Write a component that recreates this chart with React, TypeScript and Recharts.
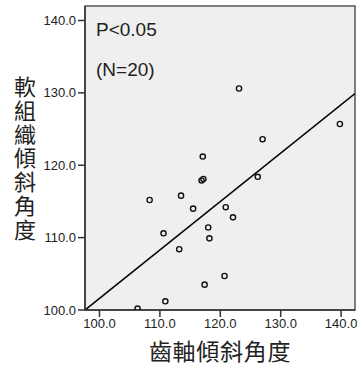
import React from 'react';
import {
  ScatterChart,
  Scatter,
  XAxis,
  YAxis,
  ReferenceArea,
  ReferenceLine,
} from 'recharts';

// 齒軸傾斜角度 (x) vs 軟組織傾斜角度 (y)
const xValues = [108.3, 110.6, 110.9, 106.3, 117.1, 116.9, 117.2, 113.5, 115.5, 120.9, 122.1, 118.0, 118.2, 113.2, 120.7, 117.4, 126.2, 123.1, 127.0, 139.8];
const yValues = [115.2, 110.6, 101.2, 100.2, 121.2, 117.9, 118.1, 115.8, 114.0, 114.2, 112.8, 111.4, 109.9, 108.4, 104.7, 103.5, 118.4, 130.6, 123.6, 125.7];

// fitted regression line endpoints
const fitX = [97.6, 142.3];
const fitY = [100.0, 129.9];

const xTicks = [100, 110, 120, 130, 140];
const yTicks = [100, 110, 120, 130, 140];
const xDomain = [97.6, 142.3];
const yDomain = [100, 142];

const xTitle = '齒軸傾斜角度';
const yTitle = '軟組織傾斜角度';
const annotations = ['P<0.05', '(N=20)'];

const points = xValues.map((x, i) => ({ x, y: yValues[i] }));
const fitSegment = fitX.map((x, i) => ({ x, y: fitY[i] }));

const Ring = (props: any) => {
  const { cx, cy } = props;
  if (cx == null || cy == null) return null;
  return <circle cx={cx} cy={cy} r={2.6} fill="none" stroke="#111" strokeWidth={1.4} />;
};

const tickStyle = { fill: '#222', fontSize: 13, fontFamily: 'Liberation Sans, Arial, sans-serif' };

export default function App() {
  return (
    <div style={{ position: 'absolute', left: 0, top: 0, width: 357, height: 370, background: '#fff' }}>
      <ScatterChart width={357} height={370} margin={{ top: 6, right: 2, left: 0, bottom: 0 }}>
        <XAxis
          type="number"
          dataKey="x"
          domain={xDomain}
          ticks={xTicks}
          allowDataOverflow
          tickFormatter={(v: number) => v.toFixed(1)}
          tick={tickStyle}
          tickSize={7}
          tickMargin={2}
          height={60}
          axisLine={{ stroke: '#333', strokeWidth: 1.5 }}
          tickLine={{ stroke: '#333', strokeWidth: 1.5 }}
        />
        <YAxis
          type="number"
          dataKey="y"
          domain={yDomain}
          ticks={yTicks}
          allowDataOverflow
          tickFormatter={(v: number) => v.toFixed(1)}
          tick={tickStyle}
          tickSize={7}
          tickMargin={2}
          width={85}
          axisLine={{ stroke: '#333', strokeWidth: 1.5 }}
          tickLine={{ stroke: '#333', strokeWidth: 1.5 }}
        />
        <ReferenceArea
          x1={xDomain[0]}
          x2={xDomain[1]}
          y1={yDomain[0]}
          y2={yDomain[1]}
          fill="#efefef"
          fillOpacity={1}
          stroke="#555"
          strokeWidth={1.5}
        />
        <ReferenceLine
          segment={[fitSegment[0], fitSegment[1]]}
          stroke="#000"
          strokeWidth={1.6}
          ifOverflow="hidden"
        />
        <Scatter data={points} shape={Ring} isAnimationActive={false} />
      </ScatterChart>
      <div
        style={{
          position: 'absolute',
          left: 96,
          top: 10,
          fontFamily: 'Liberation Sans, Arial, sans-serif',
          fontSize: 19,
          color: '#222',
          lineHeight: '40px',
        }}
      >
        {annotations.map((a) => (
          <div key={a} style={{ height: 40 }}>{a}</div>
        ))}
      </div>
      <div
        style={{
          position: 'absolute',
          left: 9,
          top: 76,
          writingMode: 'vertical-rl',
          fontFamily: '"Noto Sans CJK TC", sans-serif',
          fontSize: 22,
          color: '#222',
          lineHeight: '32px',
          letterSpacing: 1.7,
        }}
      >
        {yTitle}
      </div>
      <div
        style={{
          position: 'absolute',
          left: 85,
          width: 270,
          top: 336,
          textAlign: 'center',
          fontFamily: '"Noto Sans CJK TC", sans-serif',
          fontSize: 23,
          color: '#222',
          lineHeight: '28px',
          letterSpacing: 0.7,
        }}
      >
        {xTitle}
      </div>
    </div>
  );
}
